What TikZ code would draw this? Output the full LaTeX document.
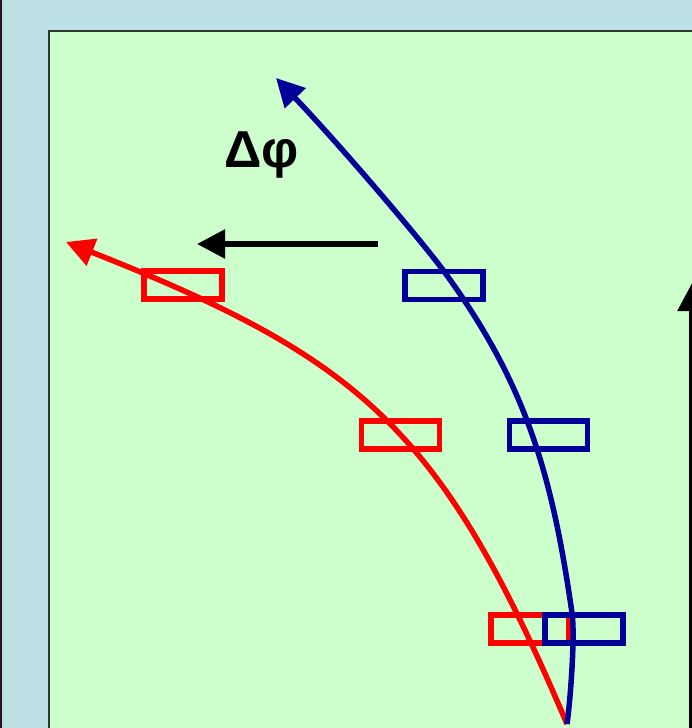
\documentclass[tikz,border=0pt]{standalone}
\usepackage{fontspec}
\setmainfont{Liberation Sans}
\usetikzlibrary{arrows.meta}
\definecolor{bgblue}{RGB}{188,224,228}
\definecolor{panelgreen}{RGB}{204,255,204}
\definecolor{darkblue}{RGB}{0,0,153}
\definecolor{pred}{RGB}{255,0,0}
\definecolor{edgedark}{RGB}{40,20,30}
\definecolor{paneledge}{RGB}{45,55,50}
\tikzset{
  blk/.style={draw, line width=5.5pt, minimum width=78pt, minimum height=28pt, inner sep=0pt},
  redblk/.style={blk, draw=pred},
  blueblk/.style={blk, draw=darkblue},
  tip/.style={-{Triangle[length=28pt,width=28pt]}},
  curve/.style={line width=5.5pt, tip}
}
\begin{document}
\begin{tikzpicture}[x=1pt,y=-1pt]
\useasboundingbox (0,0) rectangle (692,728);
\clip (0,0) rectangle (692,728);
\fill[bgblue] (0,0) rectangle (692,728);
\draw[edgedark, line width=2.5pt] (1,0) -- (1,728);
\draw[paneledge, line width=2pt, fill=panelgreen] (49,31) rectangle (760,780);
% boxes
\node[redblk]  (r1) at (183,285) {};
\node[blueblk] (b1) at (444,285.5) {};
\node[redblk]  (r2) at (400.5,435) {};
\node[blueblk] (b2) at (548.5,435) {};
\node[redblk]  (r3) at (530,629) {};
\node[blueblk] (b3) at (584,629) {};
% curves
\coordinate (start) at (567,724);
\coordinate (bm1) at (572,613);
\coordinate (bm2) at (443,270);
\coordinate (btip) at (276,78);
\coordinate (rtip) at (66,242);
\draw[curve, draw=pred] (start) .. controls (442,430) and (364,360) .. (rtip);
\draw[curve, draw=darkblue] (start) .. controls (571,695) and (575,634) .. (bm1)
  .. controls (552,474) and (526,383) .. (bm2)
  .. controls (420,239) and (340,145) .. (btip);
% black arrow
\coordinate (ka) at (378,244);
\coordinate (kb) at (197,244);
\draw[line width=5.5pt, tip] (ka) -- (kb);
% right edge arrow
\coordinate (ra) at (692,730);
\coordinate (rb) at (692,283);
\draw[line width=5.5pt, tip] (ra) -- (rb);
% label
\node[anchor=base west, inner sep=0pt, font=\fontsize{52}{56}\selectfont\bfseries] (dphi) at (224,167) {Δφ};
\end{tikzpicture}
\end{document}
